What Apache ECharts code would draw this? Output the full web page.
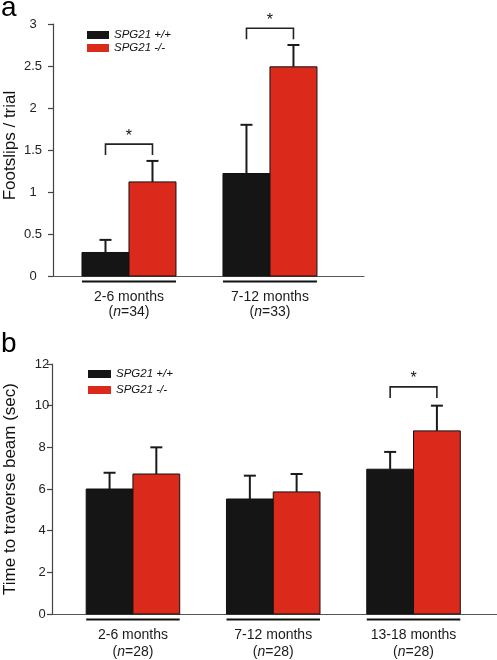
<!DOCTYPE html>
<html>
<head>
<meta charset="utf-8">
<script src="https://cdn.jsdelivr.net/npm/echarts@6/dist/echarts.min.js"></script>
<style>
html,body{margin:0;padding:0;background:#fff;}
#chart{width:497px;height:660px;}
</style>
</head>
<body>
<div id="chart"></div>
<script>
// ---------- data ----------
const legendNames = ['SPG21 +/+', 'SPG21 -/-'];

const topGroups = ['2-6 months', '7-12 months'];
const topN = ['34', '33'];
const topWT = [0.28, 1.22];
const topWTErr = [0.15, 0.58];
const topKO = [1.12, 2.49];
const topKOErr = [0.25, 0.26];
const topSig = [[0, 1.57], [1, 2.95]];     // [group index, bracket level]
const topTicks = [0, 0.5, 1, 1.5, 2, 2.5, 3];
const topYName = 'Footslips / trial';

const botGroups = ['2-6 months', '7-12 months', '13-18 months'];
const botN = ['28', '28', '28'];
const botWT = [6.0, 5.52, 6.95];
const botWTErr = [0.78, 1.12, 0.83];
const botKO = [6.72, 5.86, 8.79];
const botKOErr = [1.28, 0.86, 1.21];
const botSig = [[2, 10.9]];
const botTicks = [0, 2, 4, 6, 8, 10, 12];
const botYName = 'Time to traverse beam (sec)';

// ---------- style ----------
const FONT = '"Liberation Sans", Arial, Helvetica, sans-serif';
const C_WT = '#151515';
const C_KO = '#db2a1c';
const BAR = 1 / 3; // bar width in group units

function barRender(side) {
  return function (params, api) {
    const g = api.value(0), v = api.value(1);
    const a = api.coord([side < 0 ? g - BAR : g, v]);
    const b = api.coord([side < 0 ? g : g + BAR, 0]);
    return {
      type: 'rect',
      shape: { x: a[0], y: a[1], width: b[0] - a[0], height: b[1] - a[1] },
      style: { fill: api.visual('color'), stroke: '#111', lineWidth: 1 }
    };
  };
}

function errRender(params, api) {
  const g = api.value(0), m = api.value(1), e = api.value(2), s = api.value(3);
  const cx = g + s * BAR / 2;
  const p0 = api.coord([cx, m]);
  const p1 = api.coord([cx, m + e]);
  const st = { stroke: '#1a1a1a', lineWidth: 2 };
  return {
    type: 'group',
    children: [
      { type: 'line', shape: { x1: p0[0], y1: p0[1], x2: p1[0], y2: p1[1] }, style: st },
      { type: 'line', shape: { x1: p1[0] - 6, y1: p1[1], x2: p1[0] + 6, y2: p1[1] }, style: st }
    ]
  };
}

function groupRender(labels, ns, lh, dy) {
  return function (params, api) {
    const g = api.value(0);
    const l = api.coord([g - BAR, 0]);
    const r = api.coord([g + BAR, 0]);
    const i = params.dataIndex;
    return {
      type: 'group',
      children: [
        { type: 'line', shape: { x1: l[0], y1: l[1] + 5.5, x2: r[0], y2: r[1] + 5.5 },
          style: { stroke: '#111', lineWidth: 2.2 } },
        { type: 'text', x: (l[0] + r[0]) / 2, y: l[1] + dy,
          style: {
            text: '{m|' + labels[i] + '}\n{m|(}{i|n}{m|=' + ns[i] + ')}',
            align: 'center', verticalAlign: 'top',
            fontSize: 14, lineHeight: lh, fontFamily: FONT, fill: '#1a1a1a',
            rich: {
              m: { fontSize: 14, lineHeight: lh, fontFamily: FONT, color: '#1a1a1a' },
              i: { fontSize: 14, lineHeight: lh, fontFamily: FONT, fontStyle: 'italic', color: '#1a1a1a' }
            }
          } }
      ]
    };
  };
}

function sigRender(params, api) {
  const g = api.value(0), lv = api.value(1);
  const a = api.coord([g - BAR / 2, lv]);
  const b = api.coord([g + BAR / 2, lv]);
  return {
    type: 'group',
    children: [
      { type: 'polyline',
        shape: { points: [[a[0], a[1] + 11], [a[0], a[1]], [b[0], b[1]], [b[0], b[1] + 11]] },
        style: { stroke: '#222', lineWidth: 1.6, fill: null } },
      { type: 'text', x: (a[0] + b[0]) / 2, y: a[1] - 8,
        style: { text: '*', fontSize: 16, fontFamily: FONT, fill: '#111', align: 'center', verticalAlign: 'middle' } }
    ]
  };
}

function panelSeries(gi, groups, ns, wt, wtErr, ko, koErr, sig, lh, dy) {
  return [
    { type: 'custom', name: legendNames[0], xAxisIndex: gi, yAxisIndex: gi, clip: false, z: 2,
      itemStyle: { color: C_WT }, renderItem: barRender(-1),
      data: wt.map((v, i) => [i, v]) },
    { type: 'custom', name: legendNames[1], xAxisIndex: gi, yAxisIndex: gi, clip: false, z: 2,
      itemStyle: { color: C_KO }, renderItem: barRender(1),
      data: ko.map((v, i) => [i, v]) },
    { type: 'custom', name: 'err' + gi, xAxisIndex: gi, yAxisIndex: gi, clip: false, z: 3,
      renderItem: errRender,
      data: wt.map((v, i) => [i, v, wtErr[i], -1]).concat(ko.map((v, i) => [i, v, koErr[i], 1])) },
    { type: 'custom', name: 'grp' + gi, xAxisIndex: gi, yAxisIndex: gi, clip: false, z: 3,
      renderItem: groupRender(groups, ns, lh, dy), silent: true,
      data: groups.map((g, i) => [i, 0]) },
    { type: 'custom', name: 'sig' + gi, xAxisIndex: gi, yAxisIndex: gi, clip: false, z: 3,
      renderItem: sigRender, silent: true,
      data: sig.map(s => [s[0], s[1]]) }
  ];
}

function yAxisOf(gi, ticks, name, nameGap, margin, namePad) {
  return {
    type: 'value', gridIndex: gi,
    min: ticks[0], max: ticks[ticks.length - 1], interval: ticks[1] - ticks[0],
    name: name, nameLocation: 'middle', nameGap: nameGap, nameMoveOverlap: false,
    nameTextStyle: { fontSize: 17, fontFamily: FONT, color: '#111', padding: namePad },
    axisLine: { show: true, onZero: false, lineStyle: { color: '#444', width: 1.2 } },
    axisTick: { show: true, length: 5, lineStyle: { color: '#444', width: 1.2 } },
    axisLabel: { fontSize: 13, fontFamily: FONT, color: '#222', align: 'center', margin: margin },
    splitLine: { show: false }
  };
}

function xAxisOf(gi, min, max) {
  return {
    type: 'value', gridIndex: gi, min: min, max: max,
    axisLine: { show: true, onZero: false, lineStyle: { color: '#555', width: 1 } },
    axisTick: { show: false }, axisLabel: { show: false }, splitLine: { show: false }
  };
}

const chart = echarts.init(document.getElementById('chart'), null, { renderer: 'canvas' });
chart.setOption({
  animation: false,
  backgroundColor: '#fff',
  title: [
    { text: 'a', left: 1, top: -6, padding: 0, textStyle: { fontSize: 28, fontWeight: 'normal', fontFamily: FONT, color: '#000' } },
    { text: 'b', left: 1, top: 330, padding: 0, textStyle: { fontSize: 28, fontWeight: 'normal', fontFamily: FONT, color: '#000' } }
  ],
  legend: [
    { data: legendNames, orient: 'vertical', left: 87, top: 29, icon: 'rect', itemWidth: 22, itemHeight: 8,
      itemGap: 1, padding: 0, selectedMode: false,
      textStyle: { fontSize: 11.5, lineHeight: 12, fontStyle: 'italic', fontFamily: FONT, color: '#111' } },
    { data: legendNames, orient: 'vertical', left: 88, top: 368, icon: 'rect', itemWidth: 23, itemHeight: 8,
      itemGap: 4, padding: 0, selectedMode: false,
      textStyle: { fontSize: 11.5, lineHeight: 12, fontStyle: 'italic', fontFamily: FONT, color: '#111' } }
  ],
  grid: [
    { left: 53, top: 24, width: 311, height: 252, containLabel: false, outerBoundsMode: 'none' },
    { left: 52, top: 364, right: 0, height: 250, containLabel: false, outerBoundsMode: 'none' }
  ],
  xAxis: [xAxisOf(0, -0.539, 1.667), xAxisOf(1, -0.577, 2.595)],
  yAxis: [yAxisOf(0, topTicks, topYName, 34, 20, [0, 0, 0, 9]), yAxisOf(1, botTicks, botYName, 33, 10, 0)],
  series: panelSeries(0, topGroups, topN, topWT, topWTErr, topKO, topKOErr, topSig, 15, 13.5)
    .concat(panelSeries(1, botGroups, botN, botWT, botWTErr, botKO, botKOErr, botSig, 17, 12.5))
});
</script>
</body>
</html>
